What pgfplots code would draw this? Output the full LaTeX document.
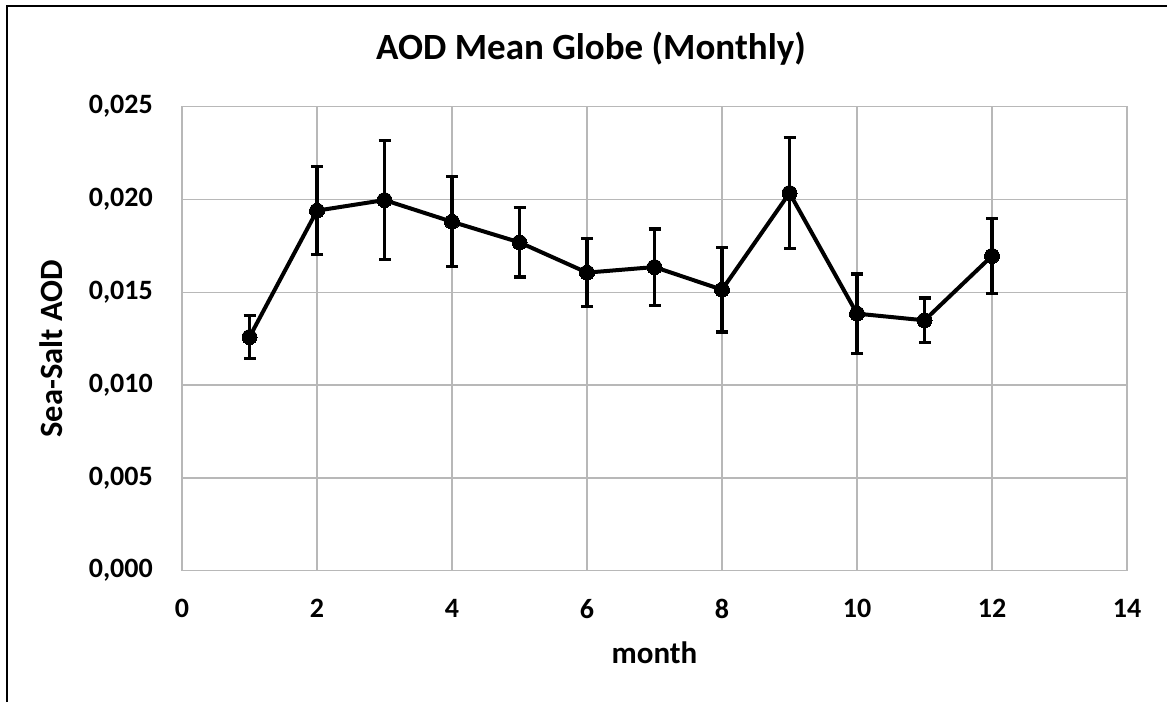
\documentclass[border=0pt]{standalone}
\usepackage{fontspec}
\setmainfont{Carlito}
\usepackage{pgfplots}
\pgfplotsset{compat=1.18}
\begin{document}
\begin{tikzpicture}[x=1pt,y=1pt]
\useasboundingbox (0pt,0pt) rectangle (1167pt,702pt);
\draw[line width=2pt] (7pt,0pt) -- (7pt,696pt) -- (1168pt,696pt);
\begin{axis}[
  at={(182pt,131.3pt)}, anchor=south west,
  scale only axis, width=945pt, height=464pt,
  xmin=0, xmax=14, ymin=0, ymax=0.025,
  xtick={0,2,4,6,8,10,12,14},
  ytick={0,0.005,0.010,0.015,0.020,0.025},
  scaled y ticks=false,
  grid=major,
  major grid style={color=black!28, line width=1.5pt},
  axis line style={color=black!28, line width=1.5pt},
  tick style={draw=none},
  ticklabel style={font=\bfseries\fontsize{28}{32}\selectfont, inner sep=0pt},
  yticklabel style={anchor=east, xshift=-29pt, /pgf/number format/.cd, fixed, fixed zerofill, precision=3, use comma, assume math mode=true},
  xticklabel style={anchor=north, yshift=-28pt, /pgf/number format/assume math mode=true},
  clip=false,
]
\addplot[black, line width=4pt, mark=*, mark size=7.5pt, mark options={solid, fill=black, line width=0pt},
  error bars/.cd, y dir=both, y explicit,
  error bar style={line width=3.2pt, black},
  error mark options={rotate=90, mark size=6pt, line width=3.2pt, black}]
  table[x=x, y=y, y error=e] {
x y e
1 0.01259 0.00115
2 0.01940 0.00236
3 0.01997 0.00320
4 0.01880 0.00243
5 0.01769 0.00187
6 0.01606 0.00183
7 0.01636 0.00205
8 0.01514 0.00228
9 0.02035 0.00300
10 0.01385 0.00214
11 0.01349 0.00120
12 0.01696 0.00202
};
\end{axis}
\node[font=\bfseries\fontsize{37}{40}\selectfont, anchor=base, inner sep=0pt] at (591pt,642pt) {AOD Mean Globe (Monthly)};
\node[font=\bfseries\fontsize{32.5}{35}\selectfont, rotate=90, inner sep=0pt] at (51pt,353pt) {Sea-Salt AOD};
\node[font=\bfseries\fontsize{31}{34}\selectfont, inner sep=0pt] at (654.5pt,49pt) {month};
\end{tikzpicture}
\end{document}
